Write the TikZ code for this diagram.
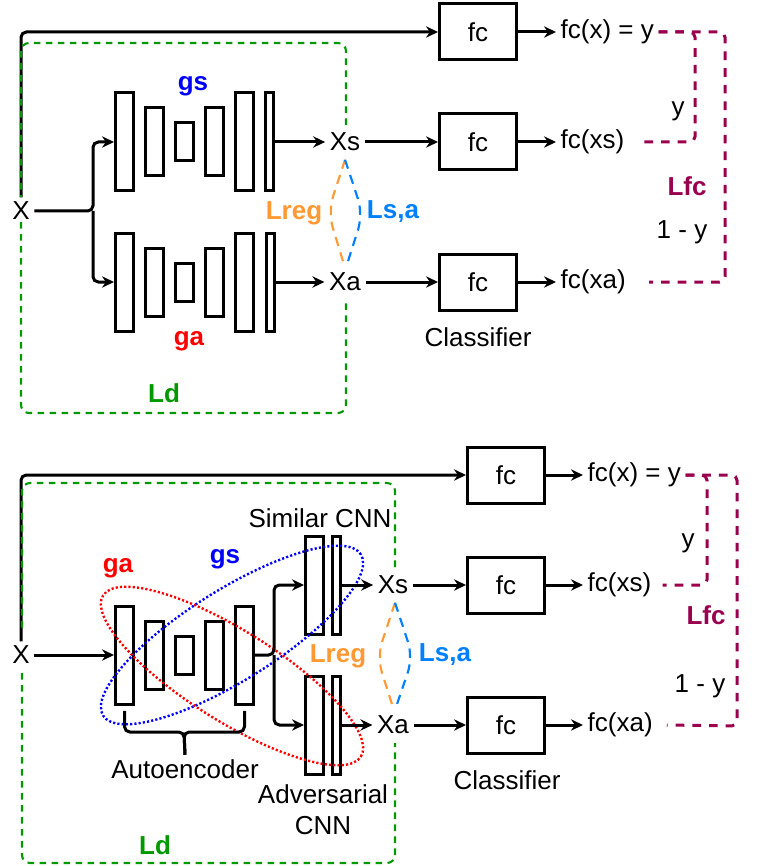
\documentclass[tikz,border=0pt]{standalone}
\usepackage{fontspec}
\setmainfont{Liberation Sans}
\usepackage{tikz}
\usetikzlibrary{arrows.meta}

\definecolor{ldgreen}{HTML}{009900}
\definecolor{gsblue}{HTML}{0000FF}
\definecolor{gared}{HTML}{FF0000}
\definecolor{regorange}{HTML}{FF9933}
\definecolor{sablue}{HTML}{007FFF}
\definecolor{fcpurple}{HTML}{99004D}

\newcommand{\figfont}{\fontsize{19.5pt}{23pt}\selectfont}

\tikzset{
	blk/.style={draw, line width=2.25pt, minimum width=13.5pt, inner sep=0pt},
	blkT/.style={blk, minimum height=73.5pt},
	blkM/.style={blk, minimum height=51pt},
	blkS/.style={blk, minimum height=28.5pt},
	blkN/.style={blk, minimum width=6pt, minimum height=73.5pt},
	fcbox/.style={draw, line width=2.25pt, minimum width=57.75pt, minimum height=42pt},
	conn/.style={line width=2.25pt, rounded corners=4pt},
	ldbox/.style={ldgreen, line width=1.6pt, dash pattern=on 5pt off 4pt, rounded corners=6pt},
	lfcline/.style={fcpurple, line width=2.25pt, dash pattern=on 6.5pt off 6pt, rounded corners=4pt},
	regline/.style={regorange, line width=1.6pt, dash pattern=on 7pt off 5pt, rounded corners=12pt},
	saline/.style={sablue, line width=1.6pt, dash pattern=on 7pt off 5pt, rounded corners=12pt},
	ring/.style={line width=1.8pt, dash pattern=on 1.6pt off 1.6pt},
	lbl/.style={font=\figfont\bfseries},
}

\begin{document}
\begin{tikzpicture}[x=0.75pt, y=-0.75pt, >={Stealth[length=9pt,width=8.5pt,inset=3pt]}, font=\figfont]
		\useasboundingbox (0,0) rectangle (758,866);
		% ===== upper diagram =====
		% input
		\node (X1) at (21,211) {X};
		% generator gs
		\node[blkT] (gs1) at (124.5,142) {};
		\node[blkM] (gs2) at (154.5,142) {};
		\node[blkS] (gs3) at (184.5,142) {};
		\node[blkM] (gs4) at (214.5,142) {};
		\node[blkT] (gs5) at (244.5,142) {};
		\node[blkN] (gs6) at (269.5,142) {};
		% generator ga
		\node[blkT] (ga1) at (124.5,282) {};
		\node[blkM] (ga2) at (154.5,282) {};
		\node[blkS] (ga3) at (184.5,282) {};
		\node[blkM] (ga4) at (214.5,282) {};
		\node[blkT] (ga5) at (244.5,282) {};
		\node[blkN] (ga6) at (270.5,282) {};
		\node (Xs1) at (345,142) {Xs};
		\node (Xa1) at (345,282) {Xa};
		% classifier
		\node[fcbox] (fcx1) at (478,32) {fc};
		\node[fcbox] (fcs1) at (478,142) {fc};
		\node[fcbox] (fca1) at (478,282) {fc};
		\node (cls1) at (478,337) {Classifier};
		\node[anchor=west] (ox1) at (556,32) {fc(x) = y};
		\node[anchor=west] (os1) at (556,142) {fc(xs)};
		\node[anchor=west] (oa1) at (556,282) {fc(xa)};
		% labels
		\node[lbl, gsblue] (gsl1) at (193,86) {gs};
		\node[lbl, gared] (gal1) at (189,341) {ga};
		\node[lbl, ldgreen] (ld1) at (164,393) {Ld};
		\node[lbl, regorange] (reg1) at (294,213) {Lreg};
		\node[lbl, sablue] (sa1) at (393,212) {Ls,a};
		\node (y1) at (678,111) {y};
		\node[lbl, fcpurple] (lfc1) at (687,186) {Lfc};
		\node (ny1) at (682,232) {1 - y};
		% connections
		\coordinate (split1) at (93,211);
		\draw[conn, ->] (X1) -- (split1) |- (gs1);
		\draw[conn, ->] (split1) |- (ga1);
		\draw[conn, ->] (gs6.east) -- (Xs1.west);
		\draw[conn, ->] (ga6.east) -- (Xa1.west);
		\draw[conn, ->] (Xs1) -- (fcs1);
		\draw[conn, ->] (Xa1) -- (fca1);
		\draw[conn, ->] (X1) |- (fcx1);
		\draw[conn, ->] (fcx1) -- (ox1);
		\draw[conn, ->] (fcs1) -- (os1);
		\draw[conn, ->] (fca1) -- (oa1);
		% losses
		\draw[regline] ([shift={(0,4)}]Xs1.south) -- (328,212) -- ([shift={(-2,-7)}]Xa1.north);
		\draw[saline] ([shift={(0,4)}]Xs1.south) -- (363,214) -- ([shift={(3,-7)}]Xa1.north);
		\draw[lfcline] (ox1) -| (695,142) -- ([xshift=6pt]os1.east);
		\draw[lfcline] (ox1) -| (725,282) -- ([xshift=14pt]oa1.east);
		\draw[ldbox] (346,125) -- (346,43) -- (21,43) -- (21,197) (21,222) -- (21,413) -- (346,413) -- (346,303);

		% ===== lower diagram =====
		% input
		\node (X2) at (21,655) {X};
		% autoencoder
		\node[blkT] (ae1) at (124.5,655) {};
		\node[blkM] (ae2) at (154.5,655) {};
		\node[blkS] (ae3) at (184.5,655) {};
		\node[blkM] (ae4) at (214.5,655) {};
		\node[blkT] (ae5) at (244.5,655) {};
		\node (aut) at (185,769) {Autoencoder};
		% similar and adversarial CNN
		\node[blkT] (sc1) at (314.5,585) {};
		\node[blkN] (sc2) at (336.5,585) {};
		\node[blkT] (ac1) at (314.5,725) {};
		\node[blkN] (ac2) at (336.5,725) {};
		\node (scn) at (320,518) {Similar CNN};
		\node[align=center] (acn) at (323,810) {Adversarial\\CNN};
		\node (Xs2) at (393,585) {Xs};
		\node (Xa2) at (393,725) {Xa};
		% classifier
		\node[fcbox] (fcx2) at (506,475) {fc};
		\node[fcbox] (fcs2) at (506,585) {fc};
		\node[fcbox] (fca2) at (506,725) {fc};
		\node (cls2) at (507,780) {Classifier};
		\node[anchor=west] (ox2) at (583,475) {fc(x) = y};
		\node[anchor=west] (os2) at (583,585) {fc(xs)};
		\node[anchor=west] (oa2) at (583,725) {fc(xa)};
		% labels
		\node[lbl, gared] (gal2) at (118,568) {ga};
		\node[lbl, gsblue] (gsl2) at (225,559) {gs};
		\node[lbl, ldgreen] (ld2) at (155,845) {Ld};
		\node[lbl, regorange] (reg2) at (338,656) {Lreg};
		\node[lbl, sablue] (sa2) at (445,655) {Ls,a};
		\node (y2) at (688,543) {y};
		\node[lbl, fcpurple] (lfc2) at (706,615) {Lfc};
		\node (ny2) at (700,686) {1 - y};
		% gs and ga
		\draw[ring, gsblue, rotate around={32:(232,635)}] (232,635) ellipse (114pt and 34pt);
		\draw[ring, gared, rotate around={-32:(232,676)}] (232,676) ellipse (114pt and 34pt);
		% connections
		\draw[conn, ->] (X2) -- (ae1);
		\coordinate (split2) at (274,655);
		\draw[conn, ->] (ae5) -- (split2) |- (sc1);
		\draw[conn, ->] (split2) |- (ac1);
		\coordinate (brc) at (184,732);
		\draw[conn] ([yshift=-4pt]ae1.south) |- (brc) -- (aut.north);
		\draw[conn] ([yshift=-4pt]ae5.south) |- (brc) -- (aut.north);
		\draw[conn, ->] (sc2.east) -- (Xs2.west);
		\draw[conn, ->] (ac2.east) -- (Xa2.west);
		\draw[conn, ->] (Xs2) -- (fcs2);
		\draw[conn, ->] (Xa2) -- (fca2);
		\draw[conn, ->] (X2) |- (fcx2);
		\draw[conn, ->] (fcx2) -- (ox2);
		\draw[conn, ->] (fcs2) -- (os2);
		\draw[conn, ->] (fca2) -- (oa2);
		% losses
		\draw[regline] ([shift={(2,4)}]Xs2.south) -- (377,657) -- ([shift={(-1,-7)}]Xa2.north);
		\draw[saline] ([shift={(2,4)}]Xs2.south) -- (413,657) -- ([shift={(4,-7)}]Xa2.north);
		\draw[lfcline] (ox2) -| (707,585) -- ([xshift=5pt]os2.east);
		\draw[lfcline] (ox2) -| (737,726) -- ([xshift=7pt]oa2.east);
		\draw[ldbox] (395,567) -- (395,483) -- (22,483) -- (22,633) (22,673) -- (22,863) -- (395,863) -- (395,743);
	\end{tikzpicture}
\end{document}
